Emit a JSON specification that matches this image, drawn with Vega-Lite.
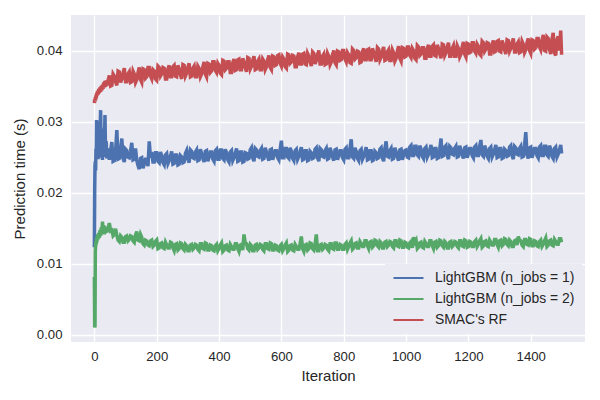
{
  "$schema": "https://vega.github.io/schema/vega-lite/v6.json",
  "width": 514,
  "height": 327,
  "autosize": {"type": "none"},
  "padding": {"left": 71, "top": 15, "right": 15, "bottom": 58},
  "background": "white",
  "config": {
    "font": "Liberation Sans",
    "view": {"fill": "#EAEAF2", "stroke": null},
    "axis": {
      "domain": false, "ticks": false, "tickSize": 0,
      "grid": true, "gridColor": "white", "gridWidth": 1.3,
      "labelColor": "#262626", "titleColor": "#262626",
      "labelFontSize": 13.2, "titleFontSize": 15, "titleFontWeight": "normal",
      "labelFont": "Liberation Sans", "titleFont": "Liberation Sans"
    }
  },
  "data": {"values": [
    {"i":0,"a":0.0123,"b":0.0081,"c":0.0326},
    {"i":1,"a":0.0205,"b":0.0010,"c":0.0331},
    {"i":2,"a":0.0238,"b":0.0012,"c":0.0328},
    {"i":3,"a":0.0244,"b":0.0118,"c":0.0334},
    {"i":4,"a":0.0231,"b":0.0124,"c":0.0330},
    {"i":5,"a":0.0262,"b":0.0131,"c":0.0337},
    {"i":6,"a":0.0248,"b":0.0127,"c":0.0333},
    {"i":7,"a":0.0302,"b":0.0136,"c":0.0340},
    {"i":8,"a":0.0251,"b":0.0130,"c":0.0336},
    {"i":10,"a":0.0270,"b":0.0141,"c":0.0343},
    {"i":12,"a":0.0247,"b":0.0134,"c":0.0338},
    {"i":14,"a":0.0300,"b":0.0143,"c":0.0346},
    {"i":16,"a":0.0252,"b":0.0136,"c":0.0340},
    {"i":18,"a":0.0281,"b":0.0147,"c":0.0348},
    {"i":20,"a":0.0316,"b":0.0139,"c":0.0342},
    {"i":22,"a":0.0249,"b":0.0151,"c":0.0350},
    {"i":24,"a":0.0268,"b":0.0142,"c":0.0344},
    {"i":26,"a":0.0246,"b":0.0159,"c":0.0352},
    {"i":28,"a":0.0290,"b":0.0145,"c":0.0346},
    {"i":30,"a":0.0253,"b":0.0154,"c":0.0355},
    {"i":32,"a":0.0264,"b":0.0141,"c":0.0348},
    {"i":34,"a":0.0309,"b":0.0152,"c":0.0357},
    {"i":36,"a":0.0250,"b":0.0143,"c":0.0349},
    {"i":38,"a":0.0272,"b":0.0150,"c":0.0358},
    {"i":40,"a":0.0248,"b":0.0144,"c":0.0351},
    {"i":44,"a":0.0262,"b":0.0150,"c":0.0358},
    {"i":48,"a":0.0246,"b":0.0157,"c":0.0365},
    {"i":56,"a":0.0271,"b":0.0147,"c":0.0351},
    {"i":64,"a":0.0245,"b":0.0141,"c":0.0364},
    {"i":72,"a":0.0288,"b":0.0140,"c":0.0351},
    {"i":80,"a":0.0248,"b":0.0131,"c":0.0370},
    {"i":88,"a":0.0276,"b":0.0137,"c":0.0360},
    {"i":96,"a":0.0243,"b":0.0130,"c":0.0375},
    {"i":104,"a":0.0259,"b":0.0139,"c":0.0356},
    {"i":112,"a":0.0249,"b":0.0134,"c":0.0370},
    {"i":120,"a":0.0270,"b":0.0138,"c":0.0356},
    {"i":128,"a":0.0247,"b":0.0130,"c":0.0367},
    {"i":136,"a":0.0245,"b":0.0145,"c":0.0359},
    {"i":144,"a":0.0233,"b":0.0132,"c":0.0376},
    {"i":152,"a":0.0249,"b":0.0137,"c":0.0355},
    {"i":160,"a":0.0240,"b":0.0126,"c":0.0373},
    {"i":168,"a":0.0247,"b":0.0132,"c":0.0363},
    {"i":176,"a":0.0272,"b":0.0125,"c":0.0376},
    {"i":184,"a":0.0257,"b":0.0133,"c":0.0360},
    {"i":192,"a":0.0243,"b":0.0126,"c":0.0371},
    {"i":200,"a":0.0256,"b":0.0133,"c":0.0358},
    {"i":208,"a":0.0242,"b":0.0122,"c":0.0376},
    {"i":216,"a":0.0252,"b":0.0129,"c":0.0367},
    {"i":224,"a":0.0239,"b":0.0121,"c":0.0375},
    {"i":232,"a":0.0255,"b":0.0126,"c":0.0360},
    {"i":240,"a":0.0245,"b":0.0122,"c":0.0379},
    {"i":248,"a":0.0258,"b":0.0129,"c":0.0363},
    {"i":256,"a":0.0241,"b":0.0118,"c":0.0379},
    {"i":264,"a":0.0253,"b":0.0128,"c":0.0363},
    {"i":272,"a":0.0240,"b":0.0121,"c":0.0374},
    {"i":280,"a":0.0250,"b":0.0128,"c":0.0360},
    {"i":288,"a":0.0243,"b":0.0119,"c":0.0379},
    {"i":296,"a":0.0259,"b":0.0125,"c":0.0368},
    {"i":304,"a":0.0242,"b":0.0118,"c":0.0382},
    {"i":312,"a":0.0258,"b":0.0127,"c":0.0364},
    {"i":320,"a":0.0248,"b":0.0122,"c":0.0378},
    {"i":328,"a":0.0260,"b":0.0126,"c":0.0363},
    {"i":336,"a":0.0246,"b":0.0118,"c":0.0375},
    {"i":344,"a":0.0255,"b":0.0128,"c":0.0367},
    {"i":352,"a":0.0243,"b":0.0120,"c":0.0384},
    {"i":360,"a":0.0259,"b":0.0128,"c":0.0363},
    {"i":368,"a":0.0250,"b":0.0119,"c":0.0381},
    {"i":376,"a":0.0257,"b":0.0125,"c":0.0371},
    {"i":384,"a":0.0244,"b":0.0118,"c":0.0384},
    {"i":392,"a":0.0261,"b":0.0127,"c":0.0369},
    {"i":400,"a":0.0247,"b":0.0121,"c":0.0379},
    {"i":408,"a":0.0260,"b":0.0129,"c":0.0366},
    {"i":416,"a":0.0246,"b":0.0119,"c":0.0385},
    {"i":424,"a":0.0256,"b":0.0126,"c":0.0375},
    {"i":432,"a":0.0243,"b":0.0118,"c":0.0384},
    {"i":440,"a":0.0259,"b":0.0124,"c":0.0369},
    {"i":448,"a":0.0249,"b":0.0120,"c":0.0388},
    {"i":456,"a":0.0262,"b":0.0128,"c":0.0373},
    {"i":464,"a":0.0245,"b":0.0117,"c":0.0388},
    {"i":472,"a":0.0257,"b":0.0127,"c":0.0373},
    {"i":480,"a":0.0244,"b":0.0141,"c":0.0384},
    {"i":488,"a":0.0255,"b":0.0128,"c":0.0370},
    {"i":496,"a":0.0248,"b":0.0119,"c":0.0389},
    {"i":504,"a":0.0263,"b":0.0125,"c":0.0378},
    {"i":512,"a":0.0244,"b":0.0118,"c":0.0392},
    {"i":520,"a":0.0260,"b":0.0127,"c":0.0374},
    {"i":528,"a":0.0250,"b":0.0122,"c":0.0388},
    {"i":536,"a":0.0262,"b":0.0126,"c":0.0373},
    {"i":544,"a":0.0248,"b":0.0118,"c":0.0385},
    {"i":552,"a":0.0257,"b":0.0128,"c":0.0377},
    {"i":560,"a":0.0245,"b":0.0120,"c":0.0393},
    {"i":568,"a":0.0261,"b":0.0128,"c":0.0373},
    {"i":576,"a":0.0252,"b":0.0119,"c":0.0391},
    {"i":584,"a":0.0259,"b":0.0125,"c":0.0380},
    {"i":592,"a":0.0246,"b":0.0118,"c":0.0394},
    {"i":600,"a":0.0273,"b":0.0127,"c":0.0378},
    {"i":608,"a":0.0249,"b":0.0121,"c":0.0388},
    {"i":616,"a":0.0262,"b":0.0129,"c":0.0375},
    {"i":624,"a":0.0248,"b":0.0119,"c":0.0394},
    {"i":632,"a":0.0258,"b":0.0126,"c":0.0384},
    {"i":640,"a":0.0245,"b":0.0118,"c":0.0392},
    {"i":648,"a":0.0261,"b":0.0124,"c":0.0377},
    {"i":656,"a":0.0251,"b":0.0120,"c":0.0397},
    {"i":664,"a":0.0264,"b":0.0138,"c":0.0381},
    {"i":672,"a":0.0247,"b":0.0117,"c":0.0396},
    {"i":680,"a":0.0259,"b":0.0127,"c":0.0380},
    {"i":688,"a":0.0246,"b":0.0121,"c":0.0392},
    {"i":696,"a":0.0256,"b":0.0128,"c":0.0378},
    {"i":704,"a":0.0249,"b":0.0119,"c":0.0396},
    {"i":712,"a":0.0263,"b":0.0141,"c":0.0386},
    {"i":720,"a":0.0244,"b":0.0118,"c":0.0400},
    {"i":728,"a":0.0260,"b":0.0127,"c":0.0381},
    {"i":736,"a":0.0250,"b":0.0122,"c":0.0395},
    {"i":744,"a":0.0262,"b":0.0126,"c":0.0381},
    {"i":752,"a":0.0248,"b":0.0118,"c":0.0392},
    {"i":760,"a":0.0257,"b":0.0128,"c":0.0384},
    {"i":768,"a":0.0245,"b":0.0120,"c":0.0400},
    {"i":776,"a":0.0261,"b":0.0129,"c":0.0380},
    {"i":784,"a":0.0252,"b":0.0120,"c":0.0398},
    {"i":792,"a":0.0259,"b":0.0126,"c":0.0387},
    {"i":800,"a":0.0246,"b":0.0120,"c":0.0400},
    {"i":808,"a":0.0263,"b":0.0129,"c":0.0384},
    {"i":816,"a":0.0249,"b":0.0124,"c":0.0394},
    {"i":824,"a":0.0275,"b":0.0132,"c":0.0382},
    {"i":832,"a":0.0248,"b":0.0122,"c":0.0400},
    {"i":840,"a":0.0258,"b":0.0129,"c":0.0390},
    {"i":848,"a":0.0245,"b":0.0122,"c":0.0398},
    {"i":856,"a":0.0261,"b":0.0128,"c":0.0384},
    {"i":864,"a":0.0251,"b":0.0124,"c":0.0403},
    {"i":872,"a":0.0264,"b":0.0132,"c":0.0387},
    {"i":880,"a":0.0247,"b":0.0121,"c":0.0402},
    {"i":888,"a":0.0259,"b":0.0131,"c":0.0387},
    {"i":896,"a":0.0246,"b":0.0125,"c":0.0398},
    {"i":904,"a":0.0256,"b":0.0132,"c":0.0384},
    {"i":912,"a":0.0249,"b":0.0123,"c":0.0402},
    {"i":920,"a":0.0263,"b":0.0129,"c":0.0391},
    {"i":928,"a":0.0244,"b":0.0122,"c":0.0405},
    {"i":936,"a":0.0272,"b":0.0131,"c":0.0387},
    {"i":944,"a":0.0250,"b":0.0126,"c":0.0401},
    {"i":952,"a":0.0262,"b":0.0130,"c":0.0386},
    {"i":960,"a":0.0248,"b":0.0122,"c":0.0397},
    {"i":968,"a":0.0257,"b":0.0132,"c":0.0389},
    {"i":976,"a":0.0245,"b":0.0124,"c":0.0406},
    {"i":984,"a":0.0261,"b":0.0132,"c":0.0385},
    {"i":992,"a":0.0252,"b":0.0123,"c":0.0403},
    {"i":1000,"a":0.0260,"b":0.0129,"c":0.0392},
    {"i":1008,"a":0.0249,"b":0.0122,"c":0.0405},
    {"i":1016,"a":0.0266,"b":0.0131,"c":0.0390},
    {"i":1024,"a":0.0252,"b":0.0137,"c":0.0400},
    {"i":1032,"a":0.0265,"b":0.0133,"c":0.0387},
    {"i":1040,"a":0.0251,"b":0.0123,"c":0.0405},
    {"i":1048,"a":0.0261,"b":0.0130,"c":0.0395},
    {"i":1056,"a":0.0248,"b":0.0122,"c":0.0404},
    {"i":1064,"a":0.0264,"b":0.0128,"c":0.0389},
    {"i":1072,"a":0.0254,"b":0.0124,"c":0.0408},
    {"i":1080,"a":0.0267,"b":0.0132,"c":0.0392},
    {"i":1088,"a":0.0250,"b":0.0121,"c":0.0408},
    {"i":1096,"a":0.0262,"b":0.0131,"c":0.0392},
    {"i":1104,"a":0.0249,"b":0.0125,"c":0.0403},
    {"i":1112,"a":0.0276,"b":0.0132,"c":0.0389},
    {"i":1120,"a":0.0252,"b":0.0123,"c":0.0408},
    {"i":1128,"a":0.0266,"b":0.0129,"c":0.0397},
    {"i":1136,"a":0.0247,"b":0.0122,"c":0.0411},
    {"i":1144,"a":0.0263,"b":0.0131,"c":0.0392},
    {"i":1152,"a":0.0253,"b":0.0126,"c":0.0407},
    {"i":1160,"a":0.0265,"b":0.0130,"c":0.0392},
    {"i":1168,"a":0.0251,"b":0.0122,"c":0.0403},
    {"i":1176,"a":0.0260,"b":0.0132,"c":0.0395},
    {"i":1184,"a":0.0248,"b":0.0124,"c":0.0412},
    {"i":1192,"a":0.0264,"b":0.0132,"c":0.0391},
    {"i":1200,"a":0.0255,"b":0.0124,"c":0.0409},
    {"i":1208,"a":0.0262,"b":0.0130,"c":0.0398},
    {"i":1216,"a":0.0249,"b":0.0124,"c":0.0411},
    {"i":1224,"a":0.0266,"b":0.0133,"c":0.0396},
    {"i":1232,"a":0.0252,"b":0.0127,"c":0.0406},
    {"i":1240,"a":0.0274,"b":0.0135,"c":0.0393},
    {"i":1248,"a":0.0251,"b":0.0125,"c":0.0411},
    {"i":1256,"a":0.0261,"b":0.0132,"c":0.0402},
    {"i":1264,"a":0.0248,"b":0.0124,"c":0.0410},
    {"i":1272,"a":0.0264,"b":0.0130,"c":0.0395},
    {"i":1280,"a":0.0254,"b":0.0126,"c":0.0414},
    {"i":1288,"a":0.0267,"b":0.0134,"c":0.0399},
    {"i":1296,"a":0.0250,"b":0.0123,"c":0.0414},
    {"i":1304,"a":0.0262,"b":0.0133,"c":0.0398},
    {"i":1312,"a":0.0249,"b":0.0127,"c":0.0409},
    {"i":1320,"a":0.0259,"b":0.0134,"c":0.0395},
    {"i":1328,"a":0.0252,"b":0.0125,"c":0.0414},
    {"i":1336,"a":0.0266,"b":0.0131,"c":0.0403},
    {"i":1344,"a":0.0247,"b":0.0124,"c":0.0417},
    {"i":1352,"a":0.0263,"b":0.0133,"c":0.0398},
    {"i":1360,"a":0.0253,"b":0.0138,"c":0.0412},
    {"i":1368,"a":0.0265,"b":0.0132,"c":0.0398},
    {"i":1376,"a":0.0251,"b":0.0124,"c":0.0409},
    {"i":1384,"a":0.0285,"b":0.0134,"c":0.0401},
    {"i":1392,"a":0.0248,"b":0.0126,"c":0.0417},
    {"i":1400,"a":0.0264,"b":0.0134,"c":0.0396},
    {"i":1408,"a":0.0255,"b":0.0125,"c":0.0414},
    {"i":1416,"a":0.0262,"b":0.0131,"c":0.0404},
    {"i":1424,"a":0.0249,"b":0.0124,"c":0.0417},
    {"i":1432,"a":0.0266,"b":0.0133,"c":0.0401},
    {"i":1440,"a":0.0252,"b":0.0127,"c":0.0422},
    {"i":1448,"a":0.0265,"b":0.0136,"c":0.0399},
    {"i":1456,"a":0.0251,"b":0.0126,"c":0.0417},
    {"i":1464,"a":0.0261,"b":0.0133,"c":0.0395},
    {"i":1472,"a":0.0248,"b":0.0125,"c":0.0425},
    {"i":1480,"a":0.0264,"b":0.0131,"c":0.0393},
    {"i":1488,"a":0.0254,"b":0.0127,"c":0.0420},
    {"i":1496,"a":0.0267,"b":0.0135,"c":0.0428},
    {"i":1499,"a":0.0255,"b":0.0130,"c":0.0394},
    {"i":52,"a":0.0258,"b":0.0146,"c":0.0350},
    {"i":60,"a":0.0244,"b":0.0139,"c":0.0367},
    {"i":68,"a":0.0257,"b":0.0149,"c":0.0356},
    {"i":76,"a":0.0247,"b":0.0133,"c":0.0371},
    {"i":84,"a":0.0260,"b":0.0139,"c":0.0355},
    {"i":92,"a":0.0248,"b":0.0130,"c":0.0368},
    {"i":100,"a":0.0261,"b":0.0138,"c":0.0356},
    {"i":108,"a":0.0250,"b":0.0132,"c":0.0367},
    {"i":116,"a":0.0258,"b":0.0139,"c":0.0355},
    {"i":124,"a":0.0246,"b":0.0132,"c":0.0371},
    {"i":132,"a":0.0262,"b":0.0140,"c":0.0355},
    {"i":140,"a":0.0238,"b":0.0133,"c":0.0369},
    {"i":148,"a":0.0248,"b":0.0141,"c":0.0359},
    {"i":156,"a":0.0234,"b":0.0128,"c":0.0374},
    {"i":164,"a":0.0247,"b":0.0133,"c":0.0361},
    {"i":172,"a":0.0237,"b":0.0126,"c":0.0376},
    {"i":180,"a":0.0249,"b":0.0132,"c":0.0364},
    {"i":188,"a":0.0243,"b":0.0124,"c":0.0373},
    {"i":196,"a":0.0256,"b":0.0131,"c":0.0360},
    {"i":204,"a":0.0244,"b":0.0121,"c":0.0378},
    {"i":212,"a":0.0257,"b":0.0128,"c":0.0364},
    {"i":220,"a":0.0242,"b":0.0122,"c":0.0376},
    {"i":228,"a":0.0253,"b":0.0130,"c":0.0360},
    {"i":236,"a":0.0241,"b":0.0122,"c":0.0374},
    {"i":244,"a":0.0251,"b":0.0130,"c":0.0363},
    {"i":252,"a":0.0240,"b":0.0122,"c":0.0377},
    {"i":260,"a":0.0253,"b":0.0127,"c":0.0364},
    {"i":268,"a":0.0239,"b":0.0119,"c":0.0379},
    {"i":276,"a":0.0252,"b":0.0129,"c":0.0366},
    {"i":284,"a":0.0242,"b":0.0121,"c":0.0380},
    {"i":292,"a":0.0255,"b":0.0127,"c":0.0364},
    {"i":300,"a":0.0247,"b":0.0118,"c":0.0376},
    {"i":308,"a":0.0260,"b":0.0126,"c":0.0363},
    {"i":316,"a":0.0249,"b":0.0120,"c":0.0375},
    {"i":324,"a":0.0257,"b":0.0127,"c":0.0363},
    {"i":332,"a":0.0245,"b":0.0120,"c":0.0378},
    {"i":340,"a":0.0261,"b":0.0128,"c":0.0363},
    {"i":348,"a":0.0248,"b":0.0121,"c":0.0377},
    {"i":356,"a":0.0258,"b":0.0129,"c":0.0367},
    {"i":364,"a":0.0244,"b":0.0119,"c":0.0382},
    {"i":372,"a":0.0257,"b":0.0126,"c":0.0369},
    {"i":380,"a":0.0247,"b":0.0119,"c":0.0384},
    {"i":388,"a":0.0259,"b":0.0125,"c":0.0372},
    {"i":396,"a":0.0247,"b":0.0118,"c":0.0382},
    {"i":404,"a":0.0260,"b":0.0126,"c":0.0368},
    {"i":412,"a":0.0248,"b":0.0117,"c":0.0386},
    {"i":420,"a":0.0261,"b":0.0125,"c":0.0373},
    {"i":428,"a":0.0246,"b":0.0119,"c":0.0384},
    {"i":436,"a":0.0257,"b":0.0127,"c":0.0369},
    {"i":444,"a":0.0245,"b":0.0120,"c":0.0383},
    {"i":452,"a":0.0255,"b":0.0128,"c":0.0372},
    {"i":460,"a":0.0244,"b":0.0121,"c":0.0387},
    {"i":468,"a":0.0257,"b":0.0126,"c":0.0373},
    {"i":476,"a":0.0243,"b":0.0119,"c":0.0389},
    {"i":484,"a":0.0256,"b":0.0129,"c":0.0376},
    {"i":492,"a":0.0247,"b":0.0121,"c":0.0390},
    {"i":500,"a":0.0260,"b":0.0127,"c":0.0374},
    {"i":508,"a":0.0249,"b":0.0118,"c":0.0386},
    {"i":516,"a":0.0262,"b":0.0126,"c":0.0373},
    {"i":524,"a":0.0251,"b":0.0120,"c":0.0385},
    {"i":532,"a":0.0259,"b":0.0127,"c":0.0373},
    {"i":540,"a":0.0247,"b":0.0120,"c":0.0388},
    {"i":548,"a":0.0263,"b":0.0128,"c":0.0373},
    {"i":556,"a":0.0250,"b":0.0121,"c":0.0387},
    {"i":564,"a":0.0260,"b":0.0129,"c":0.0376},
    {"i":572,"a":0.0246,"b":0.0119,"c":0.0392},
    {"i":580,"a":0.0259,"b":0.0126,"c":0.0379},
    {"i":588,"a":0.0249,"b":0.0119,"c":0.0393},
    {"i":596,"a":0.0261,"b":0.0125,"c":0.0382},
    {"i":604,"a":0.0249,"b":0.0118,"c":0.0391},
    {"i":612,"a":0.0262,"b":0.0126,"c":0.0377},
    {"i":620,"a":0.0250,"b":0.0117,"c":0.0395},
    {"i":628,"a":0.0263,"b":0.0125,"c":0.0382},
    {"i":636,"a":0.0248,"b":0.0119,"c":0.0393},
    {"i":644,"a":0.0259,"b":0.0127,"c":0.0377},
    {"i":652,"a":0.0247,"b":0.0120,"c":0.0391},
    {"i":660,"a":0.0257,"b":0.0128,"c":0.0381},
    {"i":668,"a":0.0246,"b":0.0121,"c":0.0395},
    {"i":676,"a":0.0259,"b":0.0126,"c":0.0381},
    {"i":684,"a":0.0245,"b":0.0119,"c":0.0396},
    {"i":692,"a":0.0258,"b":0.0129,"c":0.0384},
    {"i":700,"a":0.0248,"b":0.0121,"c":0.0398},
    {"i":708,"a":0.0261,"b":0.0127,"c":0.0381},
    {"i":716,"a":0.0249,"b":0.0118,"c":0.0394},
    {"i":724,"a":0.0262,"b":0.0126,"c":0.0381},
    {"i":732,"a":0.0251,"b":0.0120,"c":0.0392},
    {"i":740,"a":0.0259,"b":0.0127,"c":0.0380},
    {"i":748,"a":0.0247,"b":0.0120,"c":0.0396},
    {"i":756,"a":0.0263,"b":0.0128,"c":0.0380},
    {"i":764,"a":0.0250,"b":0.0121,"c":0.0394},
    {"i":772,"a":0.0260,"b":0.0129,"c":0.0383},
    {"i":780,"a":0.0246,"b":0.0120,"c":0.0399},
    {"i":788,"a":0.0259,"b":0.0127,"c":0.0386},
    {"i":796,"a":0.0249,"b":0.0120,"c":0.0400},
    {"i":804,"a":0.0261,"b":0.0127,"c":0.0388},
    {"i":812,"a":0.0249,"b":0.0120,"c":0.0397},
    {"i":820,"a":0.0262,"b":0.0129,"c":0.0383},
    {"i":828,"a":0.0250,"b":0.0120,"c":0.0402},
    {"i":836,"a":0.0263,"b":0.0128,"c":0.0388},
    {"i":844,"a":0.0248,"b":0.0122,"c":0.0399},
    {"i":852,"a":0.0259,"b":0.0131,"c":0.0383},
    {"i":860,"a":0.0247,"b":0.0124,"c":0.0398},
    {"i":868,"a":0.0257,"b":0.0132,"c":0.0387},
    {"i":876,"a":0.0246,"b":0.0125,"c":0.0401},
    {"i":884,"a":0.0259,"b":0.0130,"c":0.0387},
    {"i":892,"a":0.0245,"b":0.0123,"c":0.0403},
    {"i":900,"a":0.0258,"b":0.0133,"c":0.0390},
    {"i":908,"a":0.0248,"b":0.0125,"c":0.0404},
    {"i":916,"a":0.0261,"b":0.0131,"c":0.0387},
    {"i":924,"a":0.0249,"b":0.0122,"c":0.0399},
    {"i":932,"a":0.0262,"b":0.0130,"c":0.0386},
    {"i":940,"a":0.0251,"b":0.0124,"c":0.0398},
    {"i":948,"a":0.0259,"b":0.0131,"c":0.0386},
    {"i":956,"a":0.0247,"b":0.0124,"c":0.0401},
    {"i":964,"a":0.0263,"b":0.0132,"c":0.0385},
    {"i":972,"a":0.0250,"b":0.0125,"c":0.0399},
    {"i":980,"a":0.0260,"b":0.0133,"c":0.0389},
    {"i":988,"a":0.0246,"b":0.0123,"c":0.0404},
    {"i":996,"a":0.0259,"b":0.0130,"c":0.0391},
    {"i":1004,"a":0.0250,"b":0.0123,"c":0.0405},
    {"i":1012,"a":0.0264,"b":0.0129,"c":0.0393},
    {"i":1020,"a":0.0252,"b":0.0122,"c":0.0403},
    {"i":1028,"a":0.0265,"b":0.0130,"c":0.0389},
    {"i":1036,"a":0.0253,"b":0.0121,"c":0.0407},
    {"i":1044,"a":0.0266,"b":0.0129,"c":0.0393},
    {"i":1052,"a":0.0251,"b":0.0123,"c":0.0404},
    {"i":1060,"a":0.0262,"b":0.0131,"c":0.0389},
    {"i":1068,"a":0.0250,"b":0.0124,"c":0.0403},
    {"i":1076,"a":0.0260,"b":0.0132,"c":0.0392},
    {"i":1084,"a":0.0249,"b":0.0125,"c":0.0406},
    {"i":1092,"a":0.0262,"b":0.0130,"c":0.0393},
    {"i":1100,"a":0.0248,"b":0.0123,"c":0.0408},
    {"i":1108,"a":0.0261,"b":0.0133,"c":0.0395},
    {"i":1116,"a":0.0251,"b":0.0125,"c":0.0409},
    {"i":1124,"a":0.0264,"b":0.0131,"c":0.0393},
    {"i":1132,"a":0.0252,"b":0.0122,"c":0.0405},
    {"i":1140,"a":0.0265,"b":0.0130,"c":0.0392},
    {"i":1148,"a":0.0254,"b":0.0124,"c":0.0403},
    {"i":1156,"a":0.0262,"b":0.0131,"c":0.0392},
    {"i":1164,"a":0.0250,"b":0.0124,"c":0.0407},
    {"i":1172,"a":0.0266,"b":0.0132,"c":0.0391},
    {"i":1180,"a":0.0253,"b":0.0125,"c":0.0405},
    {"i":1188,"a":0.0263,"b":0.0133,"c":0.0395},
    {"i":1196,"a":0.0249,"b":0.0123,"c":0.0410},
    {"i":1204,"a":0.0262,"b":0.0131,"c":0.0397},
    {"i":1212,"a":0.0252,"b":0.0124,"c":0.0411},
    {"i":1220,"a":0.0264,"b":0.0131,"c":0.0399},
    {"i":1228,"a":0.0252,"b":0.0124,"c":0.0409},
    {"i":1236,"a":0.0265,"b":0.0132,"c":0.0395},
    {"i":1244,"a":0.0253,"b":0.0123,"c":0.0413},
    {"i":1252,"a":0.0266,"b":0.0131,"c":0.0399},
    {"i":1260,"a":0.0251,"b":0.0125,"c":0.0411},
    {"i":1268,"a":0.0262,"b":0.0133,"c":0.0395},
    {"i":1276,"a":0.0250,"b":0.0126,"c":0.0409},
    {"i":1284,"a":0.0260,"b":0.0134,"c":0.0398},
    {"i":1292,"a":0.0249,"b":0.0127,"c":0.0413},
    {"i":1300,"a":0.0262,"b":0.0132,"c":0.0399},
    {"i":1308,"a":0.0248,"b":0.0125,"c":0.0414},
    {"i":1316,"a":0.0261,"b":0.0135,"c":0.0401},
    {"i":1324,"a":0.0251,"b":0.0127,"c":0.0415},
    {"i":1332,"a":0.0264,"b":0.0133,"c":0.0399},
    {"i":1340,"a":0.0252,"b":0.0124,"c":0.0411},
    {"i":1348,"a":0.0265,"b":0.0132,"c":0.0398},
    {"i":1356,"a":0.0254,"b":0.0126,"c":0.0409},
    {"i":1364,"a":0.0262,"b":0.0133,"c":0.0397},
    {"i":1372,"a":0.0250,"b":0.0126,"c":0.0413},
    {"i":1380,"a":0.0266,"b":0.0134,"c":0.0397},
    {"i":1388,"a":0.0253,"b":0.0127,"c":0.0411},
    {"i":1396,"a":0.0263,"b":0.0135,"c":0.0400},
    {"i":1404,"a":0.0249,"b":0.0125,"c":0.0415},
    {"i":1412,"a":0.0262,"b":0.0132,"c":0.0402},
    {"i":1420,"a":0.0252,"b":0.0125,"c":0.0417},
    {"i":1428,"a":0.0264,"b":0.0131,"c":0.0405},
    {"i":1436,"a":0.0252,"b":0.0124,"c":0.0414},
    {"i":1444,"a":0.0265,"b":0.0132,"c":0.0400},
    {"i":1452,"a":0.0253,"b":0.0124,"c":0.0419},
    {"i":1460,"a":0.0266,"b":0.0132,"c":0.0402},
    {"i":1468,"a":0.0251,"b":0.0126,"c":0.0416},
    {"i":1476,"a":0.0262,"b":0.0134,"c":0.0397},
    {"i":1484,"a":0.0250,"b":0.0127,"c":0.0415},
    {"i":1492,"a":0.0260,"b":0.0135,"c":0.0400}
  ]},
  "transform": [{"fold": ["a", "b", "c"], "as": ["series", "time"]}],
  "mark": {"type": "line", "strokeWidth": 3.5, "strokeJoin": "miter", "clip": true},
  "encoding": {
    "x": {
      "field": "i", "type": "quantitative",
      "scale": {"domain": [-75, 1574], "nice": false, "zero": false},
      "axis": {"values": [0, 200, 400, 600, 800, 1000, 1200, 1400], "format": "d", "title": "Iteration", "labelPadding": 8, "titlePadding": 6}
    },
    "y": {
      "field": "time", "type": "quantitative",
      "scale": {"domain": [-0.00105, 0.045], "nice": false, "zero": false},
      "axis": {"values": [0, 0.01, 0.02, 0.03, 0.04], "format": ".2f", "title": "Prediction time (s)", "labelPadding": 9, "titlePadding": 9}
    },
    "color": {
      "field": "series", "type": "nominal",
      "scale": {"domain": ["a", "b", "c"], "range": ["#4C72B0", "#55A868", "#C44E52"]},
      "legend": {
        "title": null, "orient": "none", "legendX": 314, "legendY": 249,
        "fillColor": "#EAEAF2", "padding": 7, "clipHeight": 14,
        "symbolType": "stroke", "symbolSize": 900, "symbolStrokeWidth": 2.2,
        "labelFontSize": 13.9, "labelColor": "#262626", "labelOffset": 10, "rowPadding": 7,
        "labelExpr": "{'a': 'LightGBM (n_jobs = 1)', 'b': 'LightGBM (n_jobs = 2)', 'c': \"SMAC's RF\"}[datum.label]"
      }
    }
  }
}
